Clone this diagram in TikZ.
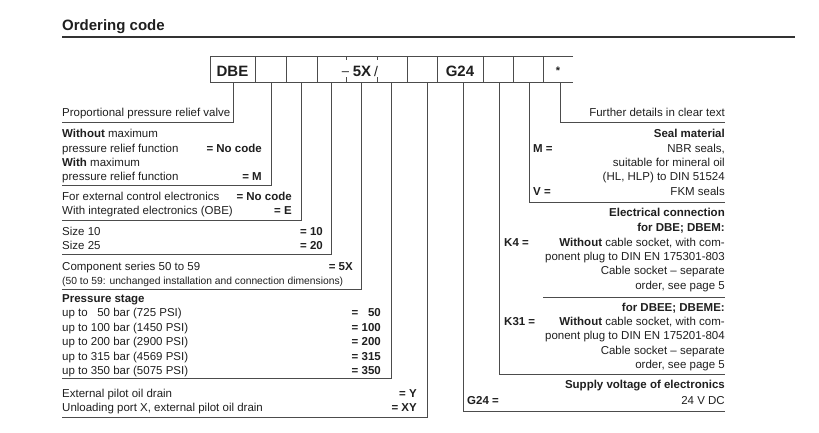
\documentclass[tikz,border=0pt]{standalone}
\usepackage{fontspec}
\setmainfont{Liberation Sans}
\usetikzlibrary{positioning}

\begin{document}
\begin{tikzpicture}[x=1pt,y=-1pt,
  rule/.style={draw=black!70, line width=0.8pt},
  desc/.style={inner sep=0pt, anchor=base west, text=black!88, font=\fontsize{11.5}{14}\selectfont},
  code/.style={desc, anchor=base east},
  field/.style={inner sep=0pt, anchor=base, text=black!88, font=\fontsize{15}{18}\selectfont\bfseries}]
  \useasboundingbox (0,0) rectangle (819,432);

  % title
  \node[field, anchor=base west] (title) at (62,30) {Ordering code};
  \draw[rule, draw=black!80, line width=1.4pt] (62,37) -- (795,37);

  % code boxes
  \draw[rule] (573,56) -- (210,56) -- (210,82) -- (573,82);
  \foreach \x in {255,286,317,407,437,483,513,543}
    \draw[rule] (\x,56) -- (\x,82);
  \foreach \x in {346,377} {
    \draw[rule] (\x,56) -- (\x,60);
    \draw[rule] (\x,77) -- (\x,82);
  }
  \node[field] (dbe) at (232.5,76) {DBE};
  \node[field, font=\fontsize{13}{16}\selectfont] (dash) at (345.5,75) {–};
  \node[field] (series) at (362,76) {5X};
  \node[field, font=\fontsize{14}{16}\selectfont] (slash) at (376,76) {/};
  \node[field] (g24) at (460,76) {G24};
  \node[field, font=\fontsize{11}{13}\selectfont\bfseries] (star) at (558,74) {*};

  % drop lines
  \foreach \n/\x/\y/\e in {1/233/122/62, 2/271/185/62, 3/301/220/62, 4/331/254/62,
      5/361/289/62, 6/391/378/62, 7/427/417/62, 8/463/411/725, 9/499/374/725,
      10/529/202/725, 11/560/122/725} {
    \coordinate (top\n) at (\x,82);
    \coordinate (end\n) at (\e,\y);
    \draw[rule] (top\n) |- (end\n);
  }
  \coordinate (sepa) at (543,297);
  \coordinate (sepb) at (725,297);
  \draw[rule] (sepa) -- (sepb);

  % left column
  \node[desc] (valve) at (62,116) {Proportional pressure relief valve};
  \node[desc] (nomax) at (62,137.5) {\textbf{Without} maximum};
  \node[desc] (nomaxb) at (62,152) {pressure relief function};
  \node[code] (nomaxc) at (262,152) {\textbf{= No code}};
  \node[desc] (max) at (62,166) {\textbf{With} maximum};
  \node[desc] (maxb) at (62,180) {pressure relief function};
  \node[code] (maxc) at (262,180) {\textbf{= M}};
  \node[desc] (extel) at (62,200) {For external control electronics};
  \node[code] (extelc) at (292,200) {\textbf{= No code}};
  \node[desc] (obe) at (62,214.5) {With integrated electronics (OBE)};
  \node[code] (obec) at (292,214.5) {\textbf{= E}};
  \node[desc] (size10) at (62,235) {Size 10};
  \node[code] (size10c) at (323,235) {\textbf{= 10}};
  \node[desc] (size25) at (62,249) {Size 25};
  \node[code] (size25c) at (323,249) {\textbf{= 20}};
  \node[desc] (ser) at (62,270) {Component series 50 to 59};
  \node[code] (serc) at (353,270) {\textbf{= 5X}};
  \node[desc, font=\fontsize{10.3}{12}\selectfont] (sernote) at (62,284)
    {(50 to 59: unchanged installation and connection dimensions)};
  \node[desc] (pst) at (62,302) {\textbf{Pressure stage}};
  \node[desc] (p50) at (62,316.5) {up to \hphantom{1}50 bar (725 PSI)};
  \node[code] (p50c) at (381,316.5) {\textbf{= \hphantom{1}50}};
  \node[desc] (p100) at (62,331) {up to 100 bar (1450 PSI)};
  \node[code] (p100c) at (381,331) {\textbf{= 100}};
  \node[desc] (p200) at (62,345) {up to 200 bar (2900 PSI)};
  \node[code] (p200c) at (381,345) {\textbf{= 200}};
  \node[desc] (p315) at (62,360) {up to 315 bar (4569 PSI)};
  \node[code] (p315c) at (381,360) {\textbf{= 315}};
  \node[desc] (p350) at (62,374) {up to 350 bar (5075 PSI)};
  \node[code] (p350c) at (381,374) {\textbf{= 350}};
  \node[desc] (drain) at (62,397) {External pilot oil drain};
  \node[code] (drainc) at (417,397) {\textbf{= Y}};
  \node[desc] (unload) at (62,411.5) {Unloading port X, external pilot oil drain};
  \node[code] (unloadc) at (417,411.5) {\textbf{= XY}};

  % right column
  \node[code] (clear) at (725,116) {Further details in clear text};
  \node[code] (seal) at (725,137.5) {\textbf{Seal material}};
  \node[desc] (mc) at (533,152) {\textbf{M =}};
  \node[code] (nbr) at (725,152) {NBR seals,};
  \node[code] (nbrb) at (725,166) {suitable for mineral oil};
  \node[code] (nbrc) at (725,180) {(HL, HLP) to DIN 51524};
  \node[desc] (vc) at (533,195) {\textbf{V =}};
  \node[code] (fkm) at (725,195) {FKM seals};
  \node[code] (elec) at (725,216.5) {\textbf{Electrical connection}};
  \node[code] (dbem) at (725,231) {\textbf{for DBE; DBEM:}};
  \node[desc] (k4c) at (504,246) {\textbf{K4 =}};
  \node[code] (k4a) at (725,246) {\textbf{Without} cable socket, with com-};
  \node[code] (k4b) at (725,260) {ponent plug to DIN EN 175301-803};
  \node[code] (k4d) at (725,274.5) {Cable socket -- separate};
  \node[code] (k4e) at (725,289) {order, see page 5};
  \node[code] (dbeme) at (725,311) {\textbf{for DBEE; DBEME:}};
  \node[desc] (k31c) at (504,325) {\textbf{K31 =}};
  \node[code] (k31a) at (725,325) {\textbf{Without} cable socket, with com-};
  \node[code] (k31b) at (725,339.5) {ponent plug to DIN EN 175201-804};
  \node[code] (k31d) at (725,354) {Cable socket -- separate};
  \node[code] (k31e) at (725,368) {order, see page 5};
  \node[code] (supply) at (725,388.5) {\textbf{Supply voltage of electronics}};
  \node[desc] (g24c) at (467,404) {\textbf{G24 =}};
  \node[code] (vdc) at (725,404) {24 V DC};
\end{tikzpicture}
\end{document}
